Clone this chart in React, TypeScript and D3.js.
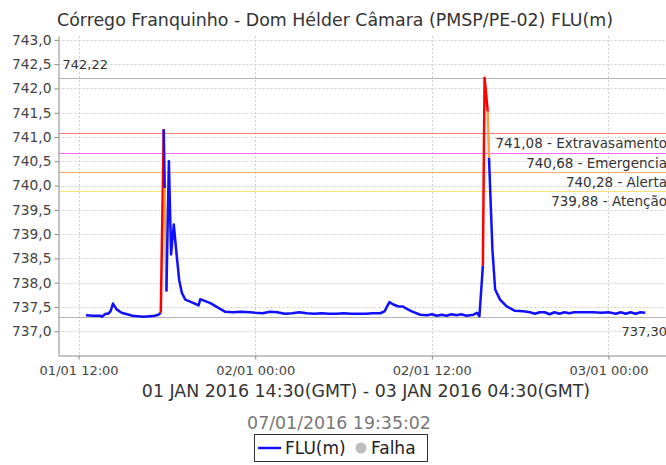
import React, { useEffect, useRef } from 'react';
import * as d3 from 'd3';

const chartTitle = 'Córrego Franquinho - Dom Hélder Câmara (PMSP/PE-02) FLU(m)';
const periodLabel = '01 JAN 2016 14:30(GMT) - 03 JAN 2016 04:30(GMT)';
const stampLabel = '07/01/2016 19:35:02';
const legendLabels = ['FLU(m)', 'Falha'];

// readings (dd/mm HH:MM, local time) and level in metres
const times = [
  '01/01 12:30', '01/01 13:00', '01/01 13:28', '01/01 13:35', '01/01 13:50', '01/01 14:00',
  '01/01 14:10', '01/01 14:20', '01/01 14:35', '01/01 14:55', '01/01 15:25', '01/01 15:40',
  '01/01 16:00', '01/01 16:25', '01/01 16:50', '01/01 17:10', '01/01 17:25', '01/01 17:35',
  '01/01 17:47', '01/01 17:51', '01/01 17:58', '01/01 18:08', '01/01 18:17', '01/01 18:28',
  '01/01 18:40', '01/01 18:50', '01/01 19:01', '01/01 19:15', '01/01 19:49', '01/01 20:09',
  '01/01 20:16', '01/01 20:36', '01/01 20:57', '01/01 21:37', '01/01 21:58', '01/01 22:30',
  '01/01 23:00', '01/01 23:40', '02/01 00:00', '02/01 00:30', '02/01 01:00', '02/01 01:30',
  '02/01 02:00', '02/01 02:30', '02/01 03:00', '02/01 03:30', '02/01 04:00', '02/01 04:30',
  '02/01 05:00', '02/01 05:30', '02/01 06:00', '02/01 06:30', '02/01 07:00', '02/01 07:30',
  '02/01 08:00', '02/01 08:30', '02/01 08:47', '02/01 09:07', '02/01 09:23', '02/01 09:44',
  '02/01 10:02', '02/01 10:18', '02/01 10:38', '02/01 11:13', '02/01 11:40', '02/01 12:00',
  '02/01 12:20', '02/01 12:40', '02/01 13:00', '02/01 13:20', '02/01 13:40', '02/01 14:00',
  '02/01 14:20', '02/01 14:50', '02/01 15:04', '02/01 15:14', '02/01 15:28', '02/01 15:35',
  '02/01 15:48', '02/01 15:53', '02/01 16:07', '02/01 16:18', '02/01 16:38', '02/01 17:05',
  '02/01 17:39', '02/01 18:13', '02/01 18:40', '02/01 19:00', '02/01 19:20', '02/01 19:40',
  '02/01 20:00', '02/01 20:20', '02/01 20:40', '02/01 21:00', '02/01 21:20', '02/01 21:40',
  '02/01 22:00', '02/01 22:30', '02/01 23:00', '02/01 23:30', '03/01 00:00', '03/01 00:30',
  '03/01 00:50', '03/01 01:10', '03/01 01:30', '03/01 01:50', '03/01 02:10', '03/01 02:30',
];
const levels = [
  737.33, 737.32, 737.32, 737.30, 737.36, 737.36,
  737.41, 737.57, 737.45, 737.38, 737.34, 737.32,
  737.31, 737.30, 737.31, 737.32, 737.34, 737.38,
  741.16, 739.95, 737.82, 740.50, 738.58, 739.20,
  738.55, 738.05, 737.79, 737.65, 737.58, 737.53,
  737.66, 737.62, 737.58, 737.46, 737.40, 737.39,
  737.40, 737.39, 737.38, 737.37, 737.40, 737.39,
  737.36, 737.37, 737.39, 737.37, 737.36, 737.37,
  737.36, 737.36, 737.37, 737.36, 737.36, 737.36,
  737.37, 737.37, 737.41, 737.60, 737.55, 737.51,
  737.51, 737.46, 737.41, 737.34, 737.33, 737.35,
  737.32, 737.34, 737.32, 737.35, 737.33, 737.35,
  737.32, 737.34, 737.38, 737.31, 738.35, 742.22,
  741.52, 740.57, 738.68, 737.86, 737.65, 737.51,
  737.42, 737.41, 737.39, 737.36, 737.39, 737.39,
  737.35, 737.39, 737.36, 737.39, 737.37, 737.39,
  737.39, 737.39, 737.39, 737.38, 737.39, 737.36,
  737.39, 737.36, 737.39, 737.36, 737.39, 737.38,
];
// segments that end at these readings are drawn flagged
const redSegmentEnds = ['01/01 17:47', '02/01 15:35', '02/01 15:48'];
const orangeSegmentEnds = ['01/01 17:58', '02/01 15:53'];

const thresholdValues = [741.08, 740.68, 740.28, 739.88];
const thresholdNames = ['Extravasamento', 'Emergencia', 'Alerta', 'Atenção'];
const yTicks = [737, 737.5, 738, 738.5, 739, 739.5, 740, 740.5, 741, 741.5, 742, 742.5, 743];
const xTicks = ['01/01 12:00', '02/01 00:00', '02/01 12:00', '03/01 00:00'];
const xDomain = ['01/01 10:38', '03/01 04:19'];
const yDomain = [736.5, 743.08];

const thresholdColors = ['#ff7a7a', '#ff66ff', '#ffaa66', '#ffe070'];
const FONT = '"DejaVu Sans", sans-serif';

function App() {
  const chartRef = useRef<SVGSVGElement>(null);

  useEffect(() => {
    const width = 666, height = 465;
    const left = 58.5, right = 672, top = 36, bottom = 355.5;
    const svg = d3.select(chartRef.current)
      .attr('width', width)
      .attr('height', height);

    svg.selectAll('*').remove();

    const parse = d3.utcParse('%d/%m %H:%M');
    const comma = d3.formatLocale({ decimal: ',', thousands: '.', grouping: [3], currency: ['', ''] });
    const f1 = comma.format('.1f');
    const f2 = comma.format('.2f');

    const data = times.map((t, i) => ({ t: parse(t)!, v: levels[i], key: t }));

    const x = d3.scaleUtc().domain(xDomain.map((d) => parse(d)!)).range([left, right]);
    const y = d3.scaleLinear().domain(yDomain).range([bottom, top]);

    svg.append('rect').attr('width', width).attr('height', height).attr('fill', '#fff');

    // grid
    const grid = svg.append('g').attr('stroke', '#cfcfcf').attr('stroke-dasharray', '2,2');
    grid.selectAll('line.h').data(yTicks).join('line')
      .attr('class', 'h')
      .attr('x1', left).attr('x2', right)
      .attr('y1', (d) => Math.round(y(d)) + 0.5).attr('y2', (d) => Math.round(y(d)) + 0.5);
    grid.selectAll('line.v').data(xTicks).join('line')
      .attr('class', 'v')
      .attr('x1', (d) => Math.round(x(parse(d)!)) + 0.5).attr('x2', (d) => Math.round(x(parse(d)!)) + 0.5)
      .attr('y1', top).attr('y2', bottom);

    // thresholds
    thresholdValues.forEach((v, i) => {
      const yy = Math.round(y(v)) + 0.5;
      svg.append('line').attr('x1', left).attr('x2', right).attr('y1', yy).attr('y2', yy)
        .attr('stroke', thresholdColors[i]).attr('stroke-width', 1)
        .attr('shape-rendering', 'crispEdges');
      svg.append('text').attr('x', 667).attr('y', yy + 14)
        .attr('text-anchor', 'end').attr('font-family', FONT).attr('font-size', 13.5).attr('fill', '#333')
        .text(`${f2(v)} - ${thresholdNames[i]}`);
    });

    // max / min markers
    const [minV, maxV] = d3.extent(levels) as [number, number];
    const yMax = Math.round(y(maxV)) + 0.5;
    const yMin = Math.round(y(minV)) + 0.5;
    svg.append('line').attr('x1', left).attr('x2', right).attr('y1', yMax).attr('y2', yMax)
      .attr('stroke', '#b4b4b4').attr('stroke-width', 1.2);
    svg.append('text').attr('x', left + 4).attr('y', yMax - 10)
      .attr('font-family', FONT).attr('font-size', 13).attr('fill', '#333').text(f2(maxV));
    svg.append('line').attr('x1', left).attr('x2', right).attr('y1', yMin).attr('y2', yMin)
      .attr('stroke', '#b4b4b4').attr('stroke-width', 1.2);
    svg.append('text').attr('x', 667).attr('y', yMin + 18).attr('text-anchor', 'end')
      .attr('font-family', FONT).attr('font-size', 13).attr('fill', '#333').text(f2(minV));

    // series, split into coloured runs
    const segColor = (key: string) =>
      redSegmentEnds.includes(key) ? '#ff0000' : orangeSegmentEnds.includes(key) ? '#ffa040' : '#1010ff';
    const runs: { color: string; pts: typeof data }[] = [];
    for (let i = 1; i < data.length; i++) {
      const c = segColor(data[i].key);
      const last = runs[runs.length - 1];
      if (last && last.color === c) last.pts.push(data[i]);
      else runs.push({ color: c, pts: [data[i - 1], data[i]] });
    }
    const line = d3.line<(typeof data)[number]>().x((d) => x(d.t)).y((d) => y(d.v));
    svg.append('g').selectAll('path').data(runs).join('path')
      .attr('fill', 'none')
      .attr('stroke', (d) => d.color)
      .attr('stroke-width', 2.5)
      .attr('stroke-linejoin', 'round')
      .attr('d', (d) => line(d.pts));

    // axes
    const yAxis = svg.append('g')
      .attr('transform', `translate(${left},0)`)
      .call(d3.axisLeft(y).tickValues(yTicks).tickFormat((d) => f1(d as number)).tickSize(4).tickSizeOuter(0).tickPadding(3));
    const xAxis = svg.append('g')
      .attr('transform', `translate(0,${bottom})`)
      .call(d3.axisBottom(x).tickValues(xTicks.map((d) => parse(d)!))
        .tickFormat((d) => d3.utcFormat('%d/%m %H:%M')(d as Date)).tickSize(4).tickSizeOuter(0).tickPadding(6));
    [yAxis, xAxis].forEach((a) => {
      a.select('.domain').attr('stroke', '#8a8a8a');
      a.selectAll('.tick line').attr('stroke', '#8a8a8a');
      a.selectAll('text').attr('font-family', FONT).attr('font-size', 13).attr('fill', '#444');
    });
    yAxis.selectAll('text').attr('font-size', 13.8);

    // titles
    svg.append('text').attr('x', 335).attr('y', 26).attr('text-anchor', 'middle')
      .attr('font-family', FONT).attr('font-size', 17.4).attr('fill', '#333').text(chartTitle);
    svg.append('text').attr('x', 366).attr('y', 397).attr('text-anchor', 'middle')
      .attr('font-family', FONT).attr('font-size', 17.4).attr('fill', '#333').text(periodLabel);
    svg.append('text').attr('x', 339).attr('y', 429).attr('text-anchor', 'middle')
      .attr('font-family', FONT).attr('font-size', 17.4).attr('fill', '#777').text(stampLabel);

    // legend
    const lg = svg.append('g');
    lg.append('rect').attr('x', 254.5).attr('y', 434.5).attr('width', 173).attr('height', 27)
      .attr('fill', '#fff').attr('stroke', '#333');
    lg.append('line').attr('x1', 258).attr('x2', 281).attr('y1', 448).attr('y2', 448)
      .attr('stroke', '#1010ff').attr('stroke-width', 2.5);
    lg.append('text').attr('x', 285).attr('y', 454).attr('font-family', FONT).attr('font-size', 17)
      .attr('fill', '#222').text(legendLabels[0]);
    lg.append('circle').attr('cx', 361).attr('cy', 448).attr('r', 5.5).attr('fill', '#bdbdbd');
    lg.append('text').attr('x', 371).attr('y', 454).attr('font-family', FONT).attr('font-size', 17)
      .attr('fill', '#222').text(legendLabels[1]);
  }, []);

  return <svg ref={chartRef} style={{ position: 'absolute', left: 0, top: 0, display: 'block' }}></svg>;
}

export default App;
